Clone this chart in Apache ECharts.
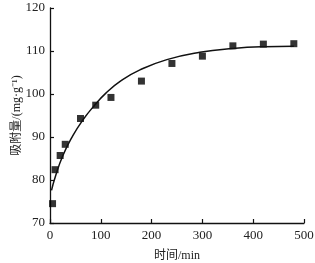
<!DOCTYPE html>
<html>
<head>
<meta charset="UTF-8">
<title>吸附量</title>
<script src="https://cdn.jsdelivr.net/npm/echarts@6/dist/echarts.min.js"></script>
<style>
  html, body { margin: 0; padding: 0; background: #fff; }
  #main { width: 315px; height: 263px; }
</style>
</head>
<body>
<div id="main"></div>
<script>
// measured points (time in min, adsorption in mg/g)
var times = [5, 10, 20, 30, 60, 90, 120, 180, 240, 300, 360, 420, 480];
var amounts = [74.5, 82.4, 85.7, 88.3, 94.3, 97.4, 99.2, 103.0, 107.1, 108.8, 111.2, 111.6, 111.7];

// fitted curve
var fitTimes = [3, 10, 25, 45, 65, 85, 110, 140, 177, 230, 295, 360, 420, 480];
var fitAmounts = [77.6, 80.6, 85.6, 90.3, 94.0, 97.0, 100.2, 103.1, 105.6, 108.0, 109.7, 110.6, 111.0, 111.1];

var xTicks = [0, 100, 200, 300, 400, 500];
var yTicks = [70, 80, 90, 100, 110, 120];

var pts = [];
for (var i = 0; i < times.length; i++) pts.push([times[i], amounts[i]]);
var fit = [];
for (var i = 0; i < fitTimes.length; i++) fit.push([fitTimes[i], fitAmounts[i]]);

var serif = '"Liberation Serif", "Noto Sans CJK SC", serif';
var chart = echarts.init(document.getElementById('main'));
chart.setOption({
  animation: false,
  backgroundColor: '#fff',
  grid: { left: 50, right: 11, top: 8, bottom: 40, outerBoundsMode: 'none', containLabel: false },
  xAxis: {
    type: 'value',
    min: xTicks[0], max: xTicks[xTicks.length - 1], interval: 100,
    name: '时间/min', nameLocation: 'middle', nameGap: 27,
    nameTextStyle: { fontFamily: serif, fontSize: 12, color: '#222' },
    axisLine: { lineStyle: { color: '#111', width: 1.3 } },
    axisTick: { inside: true, length: 4, lineStyle: { color: '#111', width: 1.2 } },
    axisLabel: { fontFamily: serif, fontSize: 13, color: '#222', margin: 6 },
    splitLine: { show: false }
  },
  yAxis: {
    type: 'value',
    min: yTicks[0], max: yTicks[yTicks.length - 1], interval: 10,
    name: '吸附量/(mg·g⁻¹)', nameLocation: 'middle', nameGap: 27, nameMoveOverlap: false,
    nameTextStyle: { fontFamily: serif, fontSize: 12, color: '#222' },
    axisLine: { lineStyle: { color: '#111', width: 1.3 } },
    axisTick: { inside: true, length: 4, lineStyle: { color: '#111', width: 1.2 } },
    axisLabel: { fontFamily: serif, fontSize: 13, color: '#222', margin: 5 },
    splitLine: { show: false }
  },
  series: [
    {
      type: 'line', data: fit, smooth: true, showSymbol: false,
      lineStyle: { color: '#111', width: 1.5 }
    },
    {
      type: 'scatter', data: pts, symbol: 'rect', symbolSize: 7,
      itemStyle: { color: '#000' }
    }
  ]
});
</script>
</body>
</html>
